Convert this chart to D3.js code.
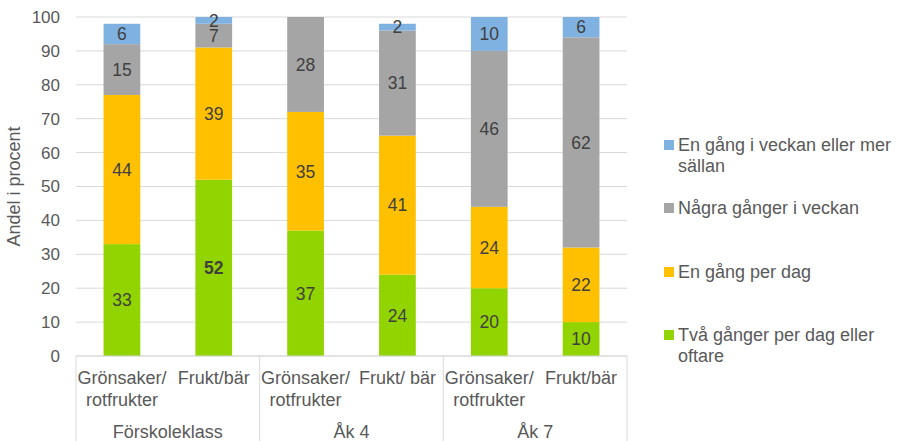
<!DOCTYPE html>
<html><head><meta charset="utf-8">
<script src="https://cdn.jsdelivr.net/npm/d3@7"></script>
<style>body{margin:0;background:#fff}text{font-family:Arial,"Liberation Sans",sans-serif}</style>
</head><body><svg id="c" width="897" height="441"></svg>
<script>
const groups = ["Förskoleklass", "Åk 4", "Åk 7"];
const barLabels = [["Grönsaker/","rotfrukter"],["Frukt/bär"],["Grönsaker/","rotfrukter"],["Frukt/ bär"],["Grönsaker/","rotfrukter"],["Frukt/bär"]];
const seriesNames = ["Två gånger per dag eller oftare","En gång per dag","Några gånger i veckan","En gång i veckan eller mer sällan"];
const tvaGanger = [33, 52, 37, 24, 20, 10];
const enGangDag = [44, 39, 35, 41, 24, 22];
const nagraGanger = [15, 7, 28, 31, 46, 62];
const enGangVecka = [6, 2, 0, 2, 10, 6];
const yTicks = [0,10,20,30,40,50,60,70,80,90,100];
const colors = ["#92D400","#FFC000","#A5A5A5","#7FB2E0"];

const svg = d3.select("#c");
const L=76, R=627, T=17, B=356;
const x = d3.scaleBand().domain(d3.range(6)).range([L,R]).paddingInner(0.6).paddingOuter(0.3);
const y = d3.scaleLinear().domain([0,100]).range([B,T]);

svg.append("g").selectAll("line").data(yTicks).join("line")
  .attr("x1",L).attr("x2",R).attr("y1",d=>y(d)).attr("y2",d=>y(d))
  .attr("stroke","#D9D9D9").attr("stroke-width",1);
svg.append("g").selectAll("text").data(yTicks).join("text")
  .attr("x",60).attr("y",d=>y(d)).attr("dy","0.35em").attr("text-anchor","end")
  .attr("font-size",17).attr("fill","#595959").text(d=>d);
svg.append("text").attr("transform",`translate(20,${(T+B)/2}) rotate(-90)`)
  .attr("text-anchor","middle").attr("font-size",18).attr("fill","#595959").text("Andel i procent");

const data = d3.range(6).map(i=>({i, vals:[tvaGanger[i],enGangDag[i],nagraGanger[i],enGangVecka[i]]}));
const stack = d3.stack().keys([0,1,2,3]).value((d,k)=>d.vals[k]);
const stacked = stack(data);

const gS = svg.append("g");
stacked.forEach((s,k)=>{
  gS.selectAll(null).data(s).join("rect")
    .attr("x",d=>x(d.data.i)).attr("width",x.bandwidth())
    .attr("y",d=>y(d[1])).attr("height",d=>Math.max(0,y(d[0])-y(d[1])))
    .attr("fill",colors[k]);
});
stacked.forEach((s,k)=>{
  gS.selectAll(null).data(s.filter(d=>d[1]-d[0]>0)).join("text")
    .attr("x",d=>x(d.data.i)+x.bandwidth()/2).attr("y",d=>y((d[0]+d[1])/2)).attr("dy","0.36em")
    .attr("text-anchor","middle").attr("font-size",17.5).attr("fill","#404040")
    .attr("font-weight",d=>(k===0&&d.data.i===1)?"bold":"normal")
    .text(d=>d[1]-d[0]);
});

svg.append("line").attr("x1",L).attr("x2",R).attr("y1",B).attr("y2",B).attr("stroke","#D9D9D9");
const sepX = [L, (x(1)+x.bandwidth()+x(2))/2, (x(3)+x.bandwidth()+x(4))/2, R];
svg.append("g").selectAll("line").data(sepX).join("line")
  .attr("x1",d=>d).attr("x2",d=>d).attr("y1",B).attr("y2",441).attr("stroke","#D9D9D9");
barLabels.forEach((lines,i)=>{
  const t = svg.append("text").attr("text-anchor","middle").attr("font-size",18).attr("fill","#595959");
  lines.forEach((ln,j)=>t.append("tspan").attr("x",x(i)+x.bandwidth()/2).attr("y",384+j*22).text(ln));
});
groups.forEach((g,gi)=>{
  svg.append("text").attr("x",(sepX[gi]+sepX[gi+1])/2).attr("y",438).attr("text-anchor","middle")
    .attr("font-size",18).attr("fill","#595959").text(g);
});

const legend = [
  {k:3, lines:["En gång i veckan eller mer","sällan"], y:145},
  {k:2, lines:["Några gånger i veckan"], y:208},
  {k:1, lines:["En gång per dag"], y:272},
  {k:0, lines:["Två gånger per dag eller","oftare"], y:335}
];
legend.forEach(l=>{
  svg.append("rect").attr("x",664).attr("y",l.y-5).attr("width",10).attr("height",10).attr("fill",colors[l.k]);
  const t = svg.append("text").attr("font-size",18).attr("fill","#595959");
  l.lines.forEach((ln,j)=>t.append("tspan").attr("x",678).attr("y",l.y+j*21).attr("dy","0.35em").text(ln));
});
</script></body></html>
